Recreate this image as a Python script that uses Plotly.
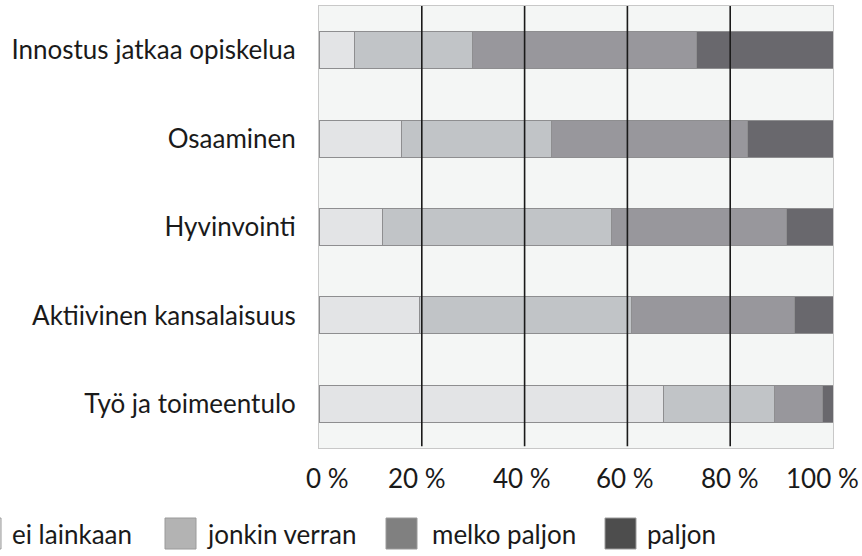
import plotly.graph_objects as go

categories = ["Innostus jatkaa opiskelua", "Osaaminen", "Hyvinvointi",
              "Aktiivinen kansalaisuus", "Työ ja toimeentulo"]
series_names = ["ei lainkaan", "jonkin verran", "melko paljon", "paljon"]
ei_lainkaan = [7.0, 16.1, 12.3, 19.5, 67.1]
jonkin_verran = [22.8, 29.2, 44.7, 41.3, 21.6]
melko_paljon = [43.7, 38.1, 33.9, 31.7, 9.3]
paljon = [26.5, 16.6, 9.1, 7.5, 2.0]
tick_values = [0, 20, 40, 60, 80, 100]
tick_labels = ["0 %", "20 %", "40 %", "60 %", "80 %", "100 %"]
grid_values = [20, 40, 60, 80]

bar_colors = ["#e3e4e6", "#c1c4c7", "#98979c", "#69686d"]
legend_colors = ["#e6e6e6", "#b3b3b3", "#808080", "#4d4d4d"]
FONT = "Lato"
FS = 26

W, H = 862, 556
L, R, T, B = 319, 29, 6, 108
PW, PH = W - L - R, H - T - B


def px_x(px):
    return (px - L) / PW


def px_y(py):
    return (H - B - py) / PH


fig = go.Figure()
for name, vals, col in zip(series_names, [ei_lainkaan, jonkin_verran, melko_paljon, paljon], bar_colors):
    fig.add_trace(go.Bar(
        y=categories, x=vals, name=name, orientation="h",
        marker=dict(color=col, line=dict(color="#8e8e90", width=1)),
        showlegend=False,
    ))

for v in grid_values:
    fig.add_shape(type="line", xref="x", yref="paper", x0=v, x1=v, y0=0.004, y1=1,
                  line=dict(color="#1a1a1a", width=1.6), layer="above")

# x tick labels (placed like the original: first/last kept inside the figure)
label_shift = [8, -5, -3, -2, 0, 0]
label_anchor = ["center", "center", "center", "center", "center", "right"]
label_extra = [0, 0, 0, 0, 0, 28]
for v, t, s, a, e in zip(tick_values, tick_labels, label_shift, label_anchor, label_extra):
    fig.add_annotation(text=t, xref="x", yref="paper", x=v, y=px_y(478),
                       xanchor=a, yanchor="middle", xshift=s + e, showarrow=False,
                       font=dict(family=FONT, size=FS, color="#1a1a1a"))

# custom legend (swatch size as in original)
sw_left = [-30, 165, 386, 605]
txt_left = [10, 205, 430, 645]
sw_top, sw_bot = 518, 549
for name, col, sl, tl in zip(series_names, legend_colors, sw_left, txt_left):
    fig.add_shape(type="rect", xref="paper", yref="paper",
                  x0=px_x(sl), x1=px_x(sl + 31), y0=px_y(sw_bot), y1=px_y(sw_top),
                  fillcolor=col, line=dict(color="#9a9a9a", width=1))
    fig.add_annotation(text=name, xref="paper", yref="paper", x=px_x(tl), y=px_y(534),
                       xanchor="left", yanchor="middle", showarrow=False,
                       font=dict(family=FONT, size=FS, color="#1a1a1a"))

fig.update_layout(
    width=W, height=H, autosize=False, barmode="stack", bargap=0.58,
    margin=dict(l=L, r=R, t=T, b=B, pad=0, autoexpand=False),
    paper_bgcolor="white", plot_bgcolor="#f4f6f5",
    font=dict(family=FONT, size=FS, color="#1a1a1a"),
    showlegend=False,
)
fig.update_xaxes(range=[0, 100], tickvals=tick_values, showticklabels=False,
                 showgrid=False, zeroline=False, showline=True, mirror=True,
                 linecolor="#c8c8c8", linewidth=1, ticks="",
                 automargin=False, fixedrange=True)
fig.update_yaxes(autorange="reversed", showgrid=False, zeroline=False, showline=True,
                 mirror=True, linecolor="#c8c8c8", linewidth=1, ticks="",
                 ticklabelstandoff=17, automargin=False, fixedrange=True)

fig.write_html("out.html", config={"displayModeBar": False},
               post_script="document.body.style.margin='0';document.body.style.overflow='hidden';")
